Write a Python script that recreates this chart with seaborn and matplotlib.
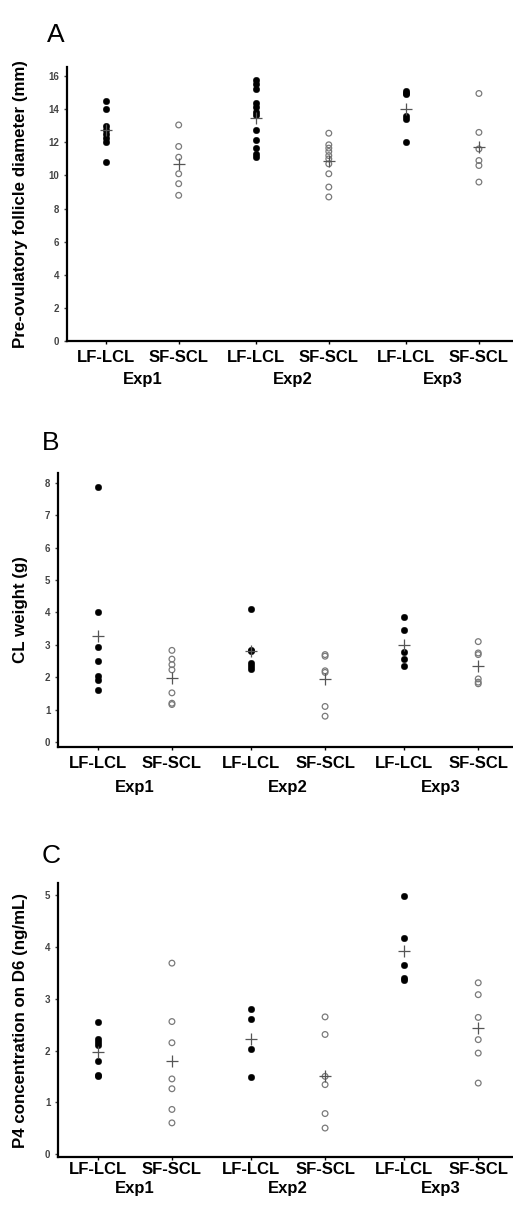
import numpy as np
import pandas as pd
import matplotlib
matplotlib.use("Agg")
import matplotlib.pyplot as plt
import seaborn as sns

sns.set_theme(style="ticks")
plt.rcParams["font.family"] = ["Liberation Sans", "DejaVu Sans"]
plt.rcParams["text.color"] = "black"
plt.rcParams["axes.labelcolor"] = "black"

experiments = ["Exp1", "Exp2", "Exp3"]
groups = ["LF-LCL", "SF-SCL"]

# A: pre-ovulatory follicle diameter (mm), one list per experiment
follicle_lf = [
    [14.5, 14.0, 13.0, 12.75, 12.5, 12.25, 12.0, 10.8],
    [15.75, 15.55, 15.25, 14.35, 14.15, 13.85, 13.65, 12.75, 12.15, 11.65, 11.3, 11.1],
    [15.1, 15.0, 14.9, 13.6, 13.4, 12.0],
]
follicle_sf = [
    [13.05, 11.75, 11.1, 10.1, 9.5, 8.8],
    [12.55, 11.85, 11.65, 11.45, 11.2, 11.0, 10.7, 10.1, 9.3, 8.7],
    [14.95, 12.6, 11.6, 10.9, 10.6, 9.6],
]

# B: CL weight (g)
cl_lf = [
    [7.88, 4.0, 2.92, 2.5, 2.05, 1.92, 1.6],
    [4.1, 2.85, 2.8, 2.45, 2.35, 2.25],
    [3.87, 3.45, 2.78, 2.55, 2.35],
]
cl_sf = [
    [2.83, 2.56, 2.39, 2.23, 1.52, 1.2, 1.16],
    [2.7, 2.65, 2.2, 2.15, 1.1, 0.8],
    [3.1, 2.75, 2.7, 1.95, 1.85, 1.8],
]

# C: P4 concentration on D6 (ng/mL)
p4_lf = [
    [2.56, 2.22, 2.16, 2.11, 1.79, 1.52, 1.5],
    [2.8, 2.61, 2.02, 1.49],
    [4.98, 4.18, 3.66, 3.4, 3.37],
]
p4_sf = [
    [3.69, 2.56, 2.15, 1.45, 1.26, 0.86, 0.6],
    [2.65, 2.31, 1.5, 1.34, 0.78, 0.5],
    [3.31, 3.08, 2.64, 2.21, 1.95, 1.37],
]

PAIR_STEP = 1.0
EXP_STEP = 2.07


def long_frame(lf, sf):
    rows = []
    for ei, exp in enumerate(experiments):
        for gi, (grp, vals) in enumerate(zip(groups, (lf[ei], sf[ei]))):
            for v in vals:
                rows.append({"exp": exp, "group": grp,
                             "pos": ei * EXP_STEP + gi * PAIR_STEP, "value": v})
    return pd.DataFrame(rows)


def draw(ax, df, ylabel, ylim, yticks, label_x, tick_pad, exp_offset):
    lf = df[df["group"] == "LF-LCL"]
    sf = df[df["group"] == "SF-SCL"]
    sns.scatterplot(data=lf, x="pos", y="value", ax=ax, color="black", s=22,
                    edgecolor="black", linewidth=0.3, legend=False, zorder=3)
    sns.scatterplot(data=sf, x="pos", y="value", ax=ax, color="#7a7a7a",
                    facecolor="none", edgecolor="#7a7a7a", s=17, linewidth=0.9,
                    legend=False, zorder=3)
    means = df.groupby("pos", as_index=False)["value"].mean()
    sns.scatterplot(data=means, x="pos", y="value", ax=ax, marker="+", s=75,
                    color="#555555", linewidth=0.9, legend=False, zorder=4)

    positions = [ei * EXP_STEP + gi * PAIR_STEP
                 for ei in range(len(experiments)) for gi in range(len(groups))]
    ax.set_xlim(-0.54, 5.61)
    ax.set_ylim(*ylim)
    ax.set_yticks(yticks)
    ax.set_xticks(positions)
    ax.set_xticklabels(groups * len(experiments), fontweight="bold", fontsize=12,
                       color="black")
    ax.tick_params(axis="x", length=2.5, width=1.0, pad=tick_pad, colors="black")
    ax.tick_params(axis="y", length=2.5, width=1.0, labelsize=7, pad=3,
                   labelcolor="#444444", color="#444444")
    for t in ax.get_yticklabels():
        t.set_fontweight("bold")
    sns.despine(ax=ax)
    for side in ("left", "bottom"):
        ax.spines[side].set_linewidth(1.6)
        ax.spines[side].set_color("black")
    ax.set_xlabel("")
    ax.set_ylabel(ylabel, fontweight="bold", fontsize=12.2, color="black")
    ax.yaxis.set_label_coords(label_x, 0.5)
    for ei, exp in enumerate(experiments):
        mid = ei * EXP_STEP + PAIR_STEP / 2
        ax.annotate(exp, xy=(mid, 0), xycoords=("data", "axes fraction"),
                    xytext=(0, -exp_offset), textcoords="offset points",
                    ha="center", va="center", fontweight="bold", fontsize=12,
                    color="black")


W, H = 513, 1208
fig = plt.figure(figsize=(W / 100, H / 100), dpi=100)
fig.patch.set_facecolor("white")


def px_axes(left, top, bottom):
    return fig.add_axes([left / W, 1 - bottom / H, 1 - left / W, (bottom - top) / H])


ax_a = px_axes(67, 67, 341)
ax_b = px_axes(58, 473, 747)
ax_c = px_axes(58, 883, 1157)

draw(ax_a, long_frame(follicle_lf, follicle_sf),
     "Pre-ovulatory follicle diameter (mm)", (0, 16.55), range(0, 17, 2),
     -0.087, 4.0, 28)
draw(ax_b, long_frame(cl_lf, cl_sf),
     "CL weight (g)", (-0.15, 8.3), range(0, 9),
     -0.066, 4.0, 29)
draw(ax_c, long_frame(p4_lf, p4_sf),
     "P4 concentration on D6 (ng/mL)", (-0.06, 5.24), range(0, 6),
     -0.066, 1.0, 22.5)

for letter, x, base in (("A", 47, 42), ("B", 42, 450), ("C", 42, 863)):
    fig.text(x / W, 1 - base / H, letter, fontsize=19, ha="left", va="baseline",
             color="black")

fig.savefig("out.png", dpi=100, facecolor="white")
